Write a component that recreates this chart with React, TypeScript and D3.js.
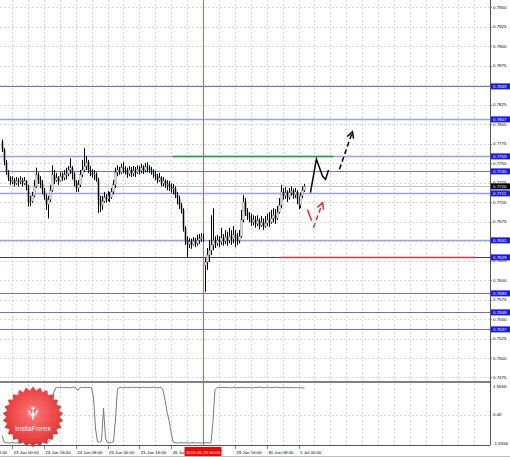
import React from "react";
import * as d3 from "d3";

// ---------- DATA (prices in 1/10000, i.e. 7767 = 0.7767) ----------
const PIP = 10000;
const firstBarIndex = 11; // trading-hour index of first visible H1 bar (0 = 22 Jun 08:00)
const firstOpen = 7777;
const gapBar = 102; // Monday 29 Jun gap bar
const gapOpen = 7619;

const closes = [
  7767, 7751, 7738, 7731, 7726, 7728, 7724, 7727, 7726, 7728,
  7724, 7727, 7720, 7700, 7701, 7708, 7720, 7735, 7728, 7723,
  7715, 7706, 7697, 7703, 7715, 7735, 7728, 7731, 7727, 7733,
  7731, 7735, 7736, 7741, 7744, 7736, 7726, 7718, 7722, 7735,
  7741, 7746, 7751, 7741, 7738, 7735, 7736, 7729, 7703, 7696,
  7701, 7706, 7704, 7708, 7706, 7713, 7722, 7738, 7741, 7738,
  7744, 7742, 7738, 7736, 7741, 7737, 7740, 7738, 7742, 7740,
  7744, 7741, 7745, 7744, 7741, 7738, 7736, 7733, 7728, 7731,
  7724, 7727, 7722, 7723, 7719, 7717, 7718, 7709, 7705, 7696,
  7690, 7667, 7651, 7646, 7649, 7645, 7650, 7647, 7651, 7653,
  7655, 7654, 7623, 7632, 7638, 7645, 7651, 7647, 7651, 7649,
  7654, 7650, 7655, 7651, 7656, 7653, 7658, 7654, 7651, 7656,
  7677, 7700, 7687, 7682, 7679, 7674, 7677, 7672, 7676, 7670,
  7674, 7669, 7673, 7677, 7674, 7679, 7683, 7679, 7687, 7696,
  7713, 7708, 7712, 7706, 7712, 7714, 7709, 7713, 7704, 7696,
  7708, 7715, 7720,
];
const highs = [
  7780, 7769, 7754, 7741, 7733, 7733, 7731, 7732, 7731, 7733,
  7731, 7732, 7728, 7722, 7708, 7713, 7728, 7744, 7738, 7733,
  7728, 7718, 7710, 7708, 7722, 7747, 7741, 7737, 7733, 7738,
  7738, 7741, 7744, 7746, 7756, 7746, 7738, 7728, 7728, 7741,
  7754, 7769, 7759, 7754, 7746, 7742, 7741, 7738, 7731, 7708,
  7708, 7713, 7710, 7714, 7713, 7718, 7728, 7744, 7747, 7745,
  7749, 7751, 7746, 7744, 7746, 7745, 7746, 7745, 7747, 7746,
  7749, 7747, 7750, 7751, 7747, 7745, 7742, 7740, 7736, 7737,
  7733, 7732, 7729, 7728, 7727, 7724, 7723, 7720, 7713, 7708,
  7699, 7692, 7669, 7656, 7654, 7653, 7655, 7654, 7658, 7659,
  7660, 7659, 7628, 7641, 7651, 7683, 7692, 7656, 7658, 7656,
  7667, 7659, 7664, 7662, 7667, 7664, 7669, 7664, 7660, 7664,
  7690, 7709, 7705, 7692, 7687, 7685, 7683, 7682, 7683, 7679,
  7682, 7679, 7682, 7685, 7687, 7690, 7692, 7691, 7695, 7705,
  7722, 7718, 7719, 7715, 7718, 7720, 7717, 7718, 7715, 7708,
  7712, 7720, 7723,
];
const lows = [
  7764, 7747, 7735, 7727, 7722, 7723, 7720, 7722, 7720, 7723,
  7720, 7722, 7715, 7694, 7695, 7699, 7706, 7718, 7723, 7718,
  7710, 7703, 7690, 7679, 7700, 7713, 7723, 7726, 7722, 7726,
  7727, 7728, 7729, 7733, 7736, 7729, 7720, 7713, 7713, 7719,
  7732, 7738, 7741, 7737, 7733, 7731, 7728, 7726, 7686, 7687,
  7690, 7699, 7699, 7701, 7700, 7704, 7710, 7718, 7733, 7735,
  7736, 7737, 7735, 7731, 7733, 7732, 7733, 7732, 7736, 7735,
  7737, 7736, 7738, 7738, 7737, 7735, 7731, 7728, 7724, 7726,
  7720, 7720, 7718, 7715, 7714, 7712, 7710, 7705, 7697, 7691,
  7685, 7662, 7645, 7629, 7641, 7640, 7644, 7642, 7644, 7646,
  7649, 7649, 7585, 7613, 7623, 7632, 7638, 7641, 7644, 7642,
  7645, 7644, 7646, 7644, 7647, 7645, 7647, 7642, 7645, 7647,
  7654, 7674, 7682, 7677, 7674, 7669, 7670, 7667, 7669, 7665,
  7668, 7664, 7667, 7669, 7668, 7672, 7674, 7672, 7677, 7685,
  7692, 7703, 7704, 7700, 7703, 7708, 7704, 7705, 7697, 7691,
  7692, 7705, 7713,
];
const oscillator = [
  -1.15, -1.5, -1.55, -1.54, -1.56, -1.53, -1.55, -1.56, -1.54, -1.55,
  -1.53, -1.56, -1.55, -1.54, -1.56, -1.55, -1.53, -1.55, -1.56, -1.54,
  -1.55, -1.53, -1.55, -1.54, -1.4, -0.2, 1.2, 1.45, 1.48, 1.47,
  1.49, 1.46, 1.48, 1.47, 1.45, 1.48, 1.49, 1.47, 1.3, 1.46,
  1.48, 1.47, 1.49, 1.47, 1.48, 1.46, 0.9, -0.8, -1.5, -1.52,
  -1.45, 0.35, -1.3, -1.53, -1.55, -1.52, -1.5, -0.3, 1.4, 1.47,
  1.48, 1.46, 1.49, 1.47, 1.48, 1.47, 1.49, 1.46, 1.48, 1.47,
  1.48, 1.49, 1.47, 1.46, 1.48, 1.47, 1.49, 1.48, 1.46, 1.47,
  1.48, 1.3, 0.75, 0.1, -0.35, -1.0, -1.5, -1.54, -1.56, -1.55,
  -1.53, -1.56, -1.55, -1.54, -1.56, -1.55, -1.53, -1.56, -1.54, -1.55,
  -1.56, -1.54, -1.55, -1.53, -1.56, -1.55, -0.4, 1.35, 1.47, 1.48,
  1.46, 1.49, 1.47, 1.48, 1.47, 1.45, 1.48, 1.49, 1.46, 1.47,
  1.48, 1.47, 1.49, 1.46, 1.48, 1.47, 1.45, 1.48, 1.47, 1.49,
  1.48, 1.46, 1.47, 1.49, 1.48, 1.46, 1.47, 1.48, 1.49, 1.47,
  1.46, 1.48, 1.47, 1.49, 1.46, 1.48, 1.47, 1.45, 1.48, 1.46,
  1.47, 1.44, 1.46,
];

// time axis labels (29 Jun 00:00 is covered by the marked-time label)
const timeLabels = [
  "22 Jun 08:00", "23 Jun 00:00", "23 Jun 16:00", "24 Jun 08:00", "25 Jun 00:00",
  "25 Jun 16:00", "26 Jun 08:00", "29 Jun 16:00", "30 Jun 08:00", "1 Jul 00:00",
];
const timeLabelIndex = [0, 16, 32, 48, 64, 80, 96, 128, 144, 160];
const markedTimeIndex = 112;
const markedTimeLabel = "2015.06.29 00:00";

// price axis labels (those under the level tags are hidden in the original)
const priceTicks = [
  0.7475, 0.75, 0.7525, 0.755, 0.7575, 0.76, 0.7625, 0.7675, 0.77,
  0.7725, 0.775, 0.7775, 0.78, 0.7825, 0.7875, 0.79, 0.7925, 0.795,
];
const gridPrices = [
  0.7475, 0.75, 0.7525, 0.755, 0.7575, 0.76, 0.7625, 0.765, 0.7675, 0.77,
  0.7725, 0.775, 0.7775, 0.78, 0.7825, 0.785, 0.7875, 0.79, 0.7925, 0.795,
];
const levels = [0.7849, 0.7807, 0.7759, 0.774, 0.7711, 0.7651, 0.7629, 0.7583, 0.7559, 0.7537];
const levelShade = ["mid", "light", "light", "mid", "light", "light", "dark", "mid", "mid", "mid"];
const currentPrice = 0.772;
const oscTicks = [1.5556, 0, -1.5556];
const oscTickLabels = ["1.5556", "0.00", "-1.5556"];

// annotations in (bar index, price)
const resistance = { price: 0.7759, from: 96.7, to: 177.6 };
const support = { price: 0.7629, from: 150.4, to: 249 };
const bullPath: [number, number][] = [[166.0, 0.7712], [169.0, 0.7755], [172.1, 0.7733], [173.6, 0.7729], [175.1, 0.7741]];
const bullDashed: [number, number][] = [[180.6, 0.7742], [187.1, 0.779]];
const bearDash: [number, number][] = [[164.5, 0.769], [166.6, 0.7676]];
const bearDashed: [number, number][] = [[167.5, 0.7667], [172.1, 0.7699]];

export default function App() {
  const x = d3.scaleLinear().domain([16, 160]).range([12, 298.5]);
  const y = d3.scaleLinear().domain([0.78, 0.795]).range([124, 7]);
  const yo = d3.scaleLinear().domain([-1.5556, 1.5556]).range([443, 386]);
  const font = "'Liberation Sans', Arial, sans-serif";
  const plotRight = 490;
  const mainBottom = 381;
  const axisY = 445;

  const bars = closes.map((cP, k) => {
    const o = (k === 0 ? firstOpen : k === gapBar ? gapOpen : closes[k - 1]) / PIP;
    const c = cP / PIP;
    const h = Math.max(highs[k] / PIP, o, c);
    const l = Math.min(lows[k] / PIP, o, c);
    return { idx: firstBarIndex + k, o, h, l, c };
  });

  const gridIdx = d3.range(16, 260, 8);
  const line = d3.line<[number, number]>().x((d) => x(d[0])).y((d) => y(d[1]));
  const oscLine = d3
    .line<number>()
    .x((_, k) => x(firstBarIndex + k))
    .y((v) => yo(v));

  const arrowHead = (pts: [number, number][], color: string) => {
    const a = pts[pts.length - 2];
    const b = pts[pts.length - 1];
    const x1 = x(a[0]), y1 = y(a[1]), x2 = x(b[0]), y2 = y(b[1]);
    const ang = Math.atan2(y2 - y1, x2 - x1);
    const L = 7, sp = 0.5;
    const p1 = [x2 - L * Math.cos(ang - sp), y2 - L * Math.sin(ang - sp)];
    const p2 = [x2 - L * Math.cos(ang + sp), y2 - L * Math.sin(ang + sp)];
    return (
      <path
        d={`M${p1[0]},${p1[1]}L${x2},${y2}L${p2[0]},${p2[1]}`}
        fill="none"
        stroke={color}
        strokeWidth={1.5}
      />
    );
  };

  // badge
  const bcx = 33, bcy = 417, nSp = 26;
  const star = d3.range(2 * nSp).map((i) => {
    const a = (i * Math.PI) / nSp;
    const r = i % 2 ? 26.5 : 30.5;
    return [bcx + r * Math.sin(a), bcy - r * Math.cos(a)] as [number, number];
  });
  const starPath = d3.line()(star) + "Z";

  const shadeColor: Record<string, string> = { light: "#9c9cff", mid: "#6a6af2", dark: "#3a3a8a" };

  return (
    <svg
      width={510}
      height={457}
      style={{ position: "absolute", left: 0, top: 0, background: "#fff" }}
      fontFamily={font}
    >
      <defs>
        <radialGradient id="badge" cx="50%" cy="45%" r="55%">
          <stop offset="0%" stopColor="#ff7070" />
          <stop offset="70%" stopColor="#ec3c3c" />
          <stop offset="100%" stopColor="#d92424" />
        </radialGradient>
        <clipPath id="plot">
          <rect x={0} y={0} width={plotRight} height={mainBottom} />
        </clipPath>
        <clipPath id="osc">
          <rect x={0} y={383} width={plotRight} height={axisY - 383} />
        </clipPath>
        <clipPath id="timeclip">
          <rect x={0} y={446} width={x(markedTimeIndex) - 18.5} height={11} />
          <rect x={x(markedTimeIndex) + 18.5} y={446} width={300} height={11} />
        </clipPath>
      </defs>
      <rect x={0} y={0} width={510} height={457} fill="#fff" />

      {/* grid */}
      <g stroke="#cfcfcf" strokeWidth={0.8} strokeDasharray="2,2">
        {gridPrices.map((p) => (
          <line key={"hg" + p} x1={0} x2={plotRight} y1={Math.round(y(p)) + 0.5} y2={Math.round(y(p)) + 0.5} />
        ))}
        <line x1={0} x2={plotRight} y1={Math.round(yo(0)) + 0.5} y2={Math.round(yo(0)) + 0.5} />
        {gridIdx.map((i) =>
          x(i) > 0 && x(i) < plotRight ? (
            <line key={"vg" + i} x1={Math.round(x(i)) + 0.5} x2={Math.round(x(i)) + 0.5} y1={0} y2={axisY} />
          ) : null
        )}
      </g>

      {/* level lines */}
      {levels.map((p, i) => (
        <line
          key={"lv" + p}
          x1={0}
          x2={plotRight}
          y1={Math.round(y(p)) + 0.5}
          y2={Math.round(y(p)) + 0.5}
          stroke={shadeColor[levelShade[i]]}
          strokeWidth={levelShade[i] === "light" ? 1.4 : 1}
        />
      ))}
      {/* current price line */}
      <line x1={0} x2={plotRight} y1={Math.round(y(currentPrice)) + 0.5} y2={Math.round(y(currentPrice)) + 0.5} stroke="#c4c4c4" strokeWidth={1} />

      {/* marked vertical */}
      <line
        x1={Math.round(x(markedTimeIndex)) + 0.5}
        x2={Math.round(x(markedTimeIndex)) + 0.5}
        y1={0}
        y2={axisY}
        stroke="#e05a5a"
        strokeWidth={1}
      />

      {/* candles */}
      <g clipPath="url(#plot)">
        {bars.map((b) => {
          const cx = Math.round(x(b.idx)) + 0.5;
          const bull = b.c >= b.o;
          const top = y(Math.max(b.o, b.c));
          const bot = y(Math.min(b.o, b.c));
          return (
            <g key={"b" + b.idx}>
              <line x1={cx} x2={cx} y1={y(b.h)} y2={y(b.l)} stroke="#000" strokeWidth={1} />
              <rect
                x={cx - 0.75}
                y={top}
                width={1.5}
                height={Math.max(0.8, bot - top)}
                fill={bull ? "#d8d8d8" : "#000"}
                stroke={bull ? "#555" : "none"}
                strokeWidth={0.3}
              />
            </g>
          );
        })}
      </g>

      {/* horizontal annotations */}
      <line
        x1={x(resistance.from)}
        x2={x(resistance.to)}
        y1={Math.round(y(resistance.price)) + 0.5}
        y2={Math.round(y(resistance.price)) + 0.5}
        stroke="#1fa81f"
        strokeWidth={1.6}
      />
      <line
        x1={x(support.from)}
        x2={x(support.to)}
        y1={Math.round(y(support.price)) + 0.5}
        y2={Math.round(y(support.price)) + 0.5}
        stroke="#e8353a"
        strokeWidth={1.6}
      />

      {/* arrows */}
      <path d={line(bullPath) || ""} fill="none" stroke="#000" strokeWidth={1.5} />
      <path d={line(bullDashed) || ""} fill="none" stroke="#000" strokeWidth={1.5} strokeDasharray="5,3" />
      {arrowHead(bullDashed, "#000")}
      <path d={line(bearDash) || ""} fill="none" stroke="#ee2a2a" strokeWidth={1.5} />
      <path d={line(bearDashed) || ""} fill="none" stroke="#ee2a2a" strokeWidth={1.5} strokeDasharray="5,3" />
      {arrowHead(bearDashed, "#ee2a2a")}

      {/* oscillator panel */}
      <line x1={0} x2={plotRight} y1={382} y2={382} stroke="#808080" strokeWidth={2} />
      <g clipPath="url(#osc)">
        <path d={oscLine(oscillator) || ""} fill="none" stroke="#7a7a7a" strokeWidth={1} />
      </g>

      {/* axes lines */}
      <line x1={plotRight + 0.5} x2={plotRight + 0.5} y1={0} y2={axisY} stroke="#555" strokeWidth={1} />
      <line x1={0} x2={plotRight} y1={axisY + 0.5} y2={axisY + 0.5} stroke="#555" strokeWidth={1} />
      <line x1={0} x2={510} y1={456.5} y2={456.5} stroke="#bbb" strokeWidth={1} />

      {/* price axis labels */}
      <g fontSize={4.4} fill="#000">
        {gridPrices.map((p) => (
          <line key={"ptk" + p} x1={plotRight} x2={plotRight + 2} y1={Math.round(y(p)) + 0.5} y2={Math.round(y(p)) + 0.5} stroke="#555" strokeWidth={0.6} />
        ))}
        {priceTicks.map((p) => (
          <text key={"pt" + p} x={493} y={y(p) + 1.6}>{p.toFixed(4)}</text>
        ))}
      </g>
      {levels.map((p) => (
        <g key={"lb" + p}>
          <rect x={491} y={Math.round(y(p)) - 2.6} width={19} height={6} fill="#1717ee" />
          <text x={493} y={Math.round(y(p)) + 2} fontSize={4.4} fill="#fff">{p.toFixed(4)}</text>
        </g>
      ))}
      <rect x={491} y={Math.round(y(currentPrice)) - 2.6} width={19} height={6} fill="#000" />
      <text x={493} y={Math.round(y(currentPrice)) + 2} fontSize={4.4} fill="#fff">{currentPrice.toFixed(4)}</text>

      {/* oscillator labels */}
      <g fontSize={4.4} fill="#000">
        {oscTicks.map((v, i) => (
          <text key={"ot" + i} x={493} y={yo(v) + 1.6}>{oscTickLabels[i]}</text>
        ))}
      </g>

      {/* time labels */}
      <g fontSize={4.4} fill="#000">
        {timeLabelIndex.map((ti, i) => (
          <g key={"tl" + ti}>
            <line x1={Math.round(x(ti)) + 0.5} x2={Math.round(x(ti)) + 0.5} y1={axisY} y2={axisY + 4} stroke="#555" strokeWidth={0.7} />
            <text x={x(ti) + 1.5} y={453.5} clipPath="url(#timeclip)">{timeLabels[i]}</text>
          </g>
        ))}
      </g>
      <rect x={x(markedTimeIndex) - 18.5} y={447} width={37} height={9} fill="#ff0000" />
      <text x={x(markedTimeIndex)} y={453.5} fontSize={4.4} fill="#fff" textAnchor="middle">{markedTimeLabel}</text>

      {/* badge */}
      <g>
        <path d={starPath} fill="url(#badge)" opacity={0.95} />
        <circle cx={bcx} cy={bcy - 5} r={5.5} fill="none" stroke="#fff" strokeOpacity={0.35} strokeWidth={0.8} />
        <path
          d={`M${bcx},${bcy + 3}L${bcx},${bcy - 6}M${bcx - 3.8},${bcy - 7}Q${bcx - 3.8},${bcy - 2} ${bcx},${bcy - 2}Q${bcx + 3.8},${bcy - 2} ${bcx + 3.8},${bcy - 7}`}
          fill="none"
          stroke="#fff"
          strokeWidth={1.6}
        />
        <circle cx={bcx} cy={bcy - 8.5} r={1.5} fill="#fff" />
        <text x={bcx} y={bcy + 14} fontSize={7.6} fill="#fff" textAnchor="middle">InstaForex</text>
      </g>
    </svg>
  );
}
